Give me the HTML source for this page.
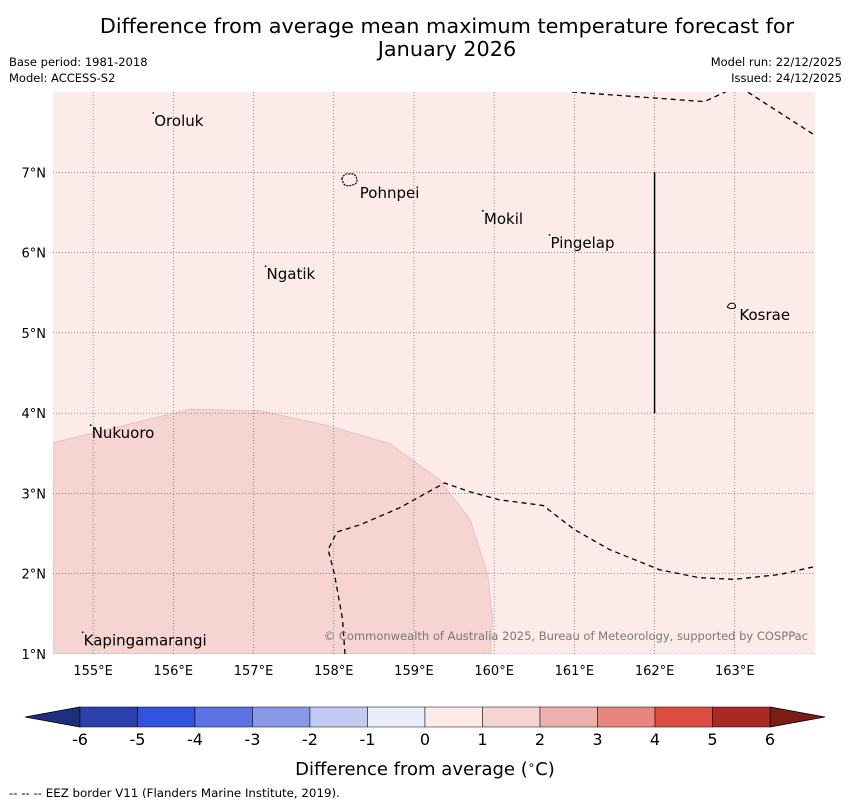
<!DOCTYPE html>
<html><head><meta charset="utf-8"><style>
body{margin:0;background:#fff;font-family:"DejaVu Sans","Liberation Sans",sans-serif;}
svg{display:block}
</style></head><body>
<svg id="chart" width="850" height="804" viewBox="0 0 850 804" xmlns="http://www.w3.org/2000/svg" font-family="DejaVu Sans, Liberation Sans, sans-serif">
<text x="447" y="33" font-size="20.8" text-anchor="middle">Difference from average mean maximum temperature forecast for</text>
<text x="447" y="56" font-size="20.8" text-anchor="middle">January 2026</text>
<text x="9" y="66" font-size="11.5">Base period: 1981-2018</text>
<text x="9" y="82" font-size="11.5">Model: ACCESS-S2</text>
<text x="842" y="66" font-size="11.5" text-anchor="end">Model run: 22/12/2025</text>
<text x="842" y="82" font-size="11.5" text-anchor="end">Issued: 24/12/2025</text>
<defs><clipPath id="mapclip"><rect x="53" y="92" width="762" height="562"/></clipPath></defs>
<g id="map"></g>
<g id="cbar"></g>
<text x="425" y="775" font-size="18" text-anchor="middle">Difference from average (<tspan font-size="12" dy="-6">∘</tspan><tspan dy="6">C)</tspan></text>
<text x="9" y="797" font-size="11.8">--  --  -- EEZ border V11 (Flanders Marine Institute, 2019).</text>
</svg>
<script>
const lonTicks=[155,156,157,158,159,160,161,162,163];
const latTicks=[1,2,3,4,5,6,7];
const regionLon=[154.5,156.21,157.08,157.95,158.70,159.32,159.70,159.92,159.98,159.95,154.5];
const regionLat=[3.63,4.05,4.03,3.84,3.62,3.17,2.67,1.99,1.43,1.0,1.0];
const eez1Lon=[158.14,158.11,158.01,157.93,158.04,158.33,158.82,159.38,159.70,160.07,160.61,161.00,161.44,162.06,162.56,162.99,163.56,164.0];
const eez1Lat=[1.0,1.43,1.99,2.30,2.52,2.61,2.82,3.13,3.02,2.92,2.85,2.55,2.30,2.05,1.95,1.93,1.99,2.09];
const eez2Lon=[160.97,162.62,162.99,163.16,164.0];
const eez2Lat=[8.0,7.88,8.05,8.0,7.46];
const islandNames=["Oroluk","Pohnpei","Mokil","Pingelap","Ngatik","Kosrae","Nukuoro","Kapingamarangi"];
const islandLon=[155.75,158.2,159.86,160.69,157.15,162.97,154.97,154.87];
const islandLat=[7.74,6.88,6.52,6.22,5.83,5.32,3.85,1.27];
const cbLevels=[-6,-5,-4,-3,-2,-1,0,1,2,3,4,5,6];
const cbColors=["#2a41ad","#3153dd","#5b73e2","#8899ea","#c3caf3","#e9ecfb","#fcebe9","#f6d4d2","#eeb0ab","#e8867d","#dc4c41","#a92a22"];
const NS="http://www.w3.org/2000/svg";
const X0=53,X1=815,Y0=92,Y1=654,LON0=154.5,LON1=164.0,LAT0=1,LAT1=8;
const xs=lon=>X0+(lon-LON0)/(LON1-LON0)*(X1-X0);
const ys=lat=>Y1-(lat-LAT0)/(LAT1-LAT0)*(Y1-Y0);
function mk(t,a,p){const e=document.createElementNS(NS,t);for(const k in a)e.setAttribute(k,a[k]);p.appendChild(e);return e;}
const map=document.getElementById('map');
const bg=mk('rect',{x:X0,y:Y0,width:X1-X0,height:Y1-Y0,fill:cbColors[6]},map);


const g=mk('g',{'clip-path':'url(#mapclip)'},map);
const reg=mk('polygon',{points:regionLon.map((l,i)=>xs(l)+','+ys(regionLat[i])).join(' '),fill:cbColors[7],stroke:'#d9b0ad','stroke-width':0.6},g);


lonTicks.forEach(l=>{const e=mk('line',{x1:xs(l),x2:xs(l),y1:Y0,y2:Y1,stroke:'#555','stroke-width':0.6,'stroke-dasharray':'1,2'},g);


const t=mk('text',{x:xs(l),y:675,'font-size':13,'text-anchor':'middle'},map);t.textContent=l+'°E';

});
latTicks.forEach(l=>{const e=mk('line',{x1:X0,x2:X1,y1:ys(l),y2:ys(l),stroke:'#555','stroke-width':0.6,'stroke-dasharray':'1,2'},g);


const t=mk('text',{x:46,y:ys(l)+5,'font-size':13,'text-anchor':'end'},map);t.textContent=l+'°N';

});
[[eez1Lon,eez1Lat],[eez2Lon,eez2Lat]].forEach(([lo,la])=>{const e=mk('polyline',{points:lo.map((l,i)=>xs(l)+','+ys(la[i])).join(' '),fill:'none',stroke:'#000','stroke-width':1.3,'stroke-dasharray':'5,4'},g);

});
const vl=mk('line',{x1:xs(162),x2:xs(162),y1:ys(7),y2:ys(4),stroke:'#000','stroke-width':1.5},g);


islandNames.forEach((n,i)=>{const x=xs(islandLon[i]),y=ys(islandLat[i]);
let m;
if(n==='Pohnpei'){m=mk('path',{d:`M${x-8},${y-3} q2,-6 8,-5 q6,-1 7,5 q1,5 -4,6 q-6,2 -9,-1 z`,fill:'none',stroke:'#000','stroke-width':1.2,'stroke-dasharray':'2,1'},map);}
else if(n==='Kosrae'){m=mk('path',{d:`M${x-5},${y} q1,-4 5,-4 q4,1 3,4 q-3,3 -8,0 z`,fill:'none',stroke:'#000','stroke-width':1},map);}
else m=mk('circle',{cx:x,cy:y,r:0.9,fill:'#000'},map);


const off=n==='Pohnpei'?[10,16]:n==='Kosrae'?[7,13]:[1,13];
const t=mk('text',{x:x+off[0],y:y+off[1],'font-size':15},map);t.textContent=n;

});
const cp=mk('text',{x:808,y:640,'font-size':11.5,'text-anchor':'end',fill:'#777'},map);cp.textContent='© Commonwealth of Australia 2025, Bureau of Meteorology, supported by COSPPac';


const cb=document.getElementById('cbar');
const CX0=80,CX1=770,CY=707,CH=20;
const cx=v=>CX0+(v-cbLevels[0])/(cbLevels[cbLevels.length-1]-cbLevels[0])*(CX1-CX0);
const lt=mk('polygon',{points:`25,${CY+CH/2} ${CX0},${CY} ${CX0},${CY+CH}`,fill:'#1e2f80',stroke:'#000','stroke-width':0.8},cb);


const rt=mk('polygon',{points:`825,${CY+CH/2} ${CX1},${CY} ${CX1},${CY+CH}`,fill:'#7a1d16',stroke:'#000','stroke-width':0.8},cb);


cbColors.forEach((c,i)=>{const r=mk('rect',{x:cx(cbLevels[i]),y:CY,width:cx(cbLevels[i+1])-cx(cbLevels[i]),height:CH,fill:c,stroke:'#000','stroke-width':0.5},cb);

});
cbLevels.forEach(v=>{const t=mk('text',{x:cx(v),y:745,'font-size':16,'text-anchor':'middle'},cb);t.textContent=v;

});
</script>
</body></html>
